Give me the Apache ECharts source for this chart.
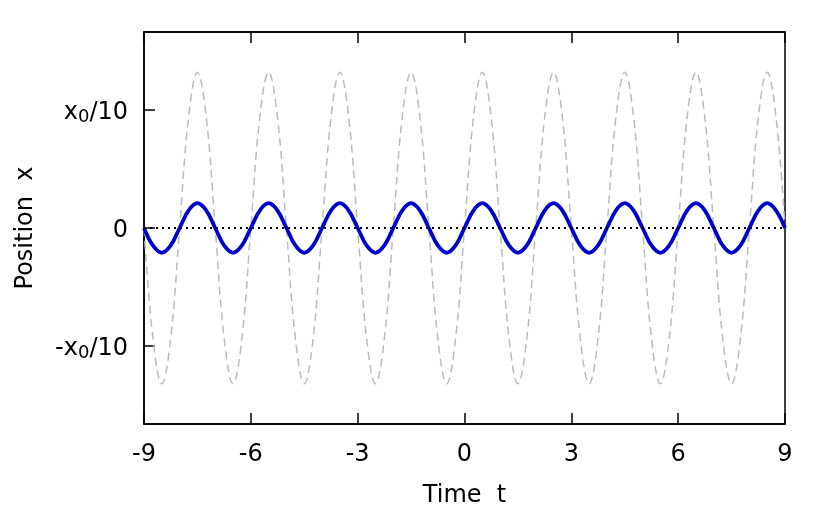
<!DOCTYPE html>
<html>
<head>
<meta charset="utf-8">
<script src="https://cdn.jsdelivr.net/npm/echarts@6/dist/echarts.min.js"></script>
<style>
  html, body { margin: 0; padding: 0; background: #fff; }
  #chart { width: 830px; height: 513px; }
</style>
</head>
<body>
<div id="chart"></div>
<script>
// time samples (every eighth of a period)
const timeValues = [
  -9, -8.75, -8.5, -8.25, -8, -7.75, -7.5, -7.25,
  -7, -6.75, -6.5, -6.25, -6, -5.75, -5.5, -5.25,
  -5, -4.75, -4.5, -4.25, -4, -3.75, -3.5, -3.25,
  -3, -2.75, -2.5, -2.25, -2, -1.75, -1.5, -1.25,
  -1, -0.75, -0.5, -0.25, 0, 0.25, 0.5, 0.75,
  1, 1.25, 1.5, 1.75, 2, 2.25, 2.5, 2.75,
  3, 3.25, 3.5, 3.75, 4, 4.25, 4.5, 4.75,
  5, 5.25, 5.5, 5.75, 6, 6.25, 6.5, 6.75,
  7, 7.25, 7.5, 7.75, 8, 8.25, 8.5, 8.75,
  9
];
// thick blue response curve
const responseValues = [
  0, -0.0148, -0.021, -0.0148, 0, 0.0148, 0.021, 0.0148,
  0, -0.0148, -0.021, -0.0148, 0, 0.0148, 0.021, 0.0148,
  0, -0.0148, -0.021, -0.0148, 0, 0.0148, 0.021, 0.0148,
  0, -0.0148, -0.021, -0.0148, 0, 0.0148, 0.021, 0.0148,
  0, -0.0148, -0.021, -0.0148, 0, 0.0148, 0.021, 0.0148,
  0, -0.0148, -0.021, -0.0148, 0, 0.0148, 0.021, 0.0148,
  0, -0.0148, -0.021, -0.0148, 0, 0.0148, 0.021, 0.0148,
  0, -0.0148, -0.021, -0.0148, 0, 0.0148, 0.021, 0.0148,
  0, -0.0148, -0.021, -0.0148, 0, 0.0148, 0.021, 0.0148,
  0
];
// grey dashed curve
const dashedValues = [
  0, -0.0933, -0.132, -0.0933, 0, 0.0933, 0.132, 0.0933,
  0, -0.0933, -0.132, -0.0933, 0, 0.0933, 0.132, 0.0933,
  0, -0.0933, -0.132, -0.0933, 0, 0.0933, 0.132, 0.0933,
  0, -0.0933, -0.132, -0.0933, 0, 0.0933, 0.132, 0.0933,
  0, -0.0933, -0.132, -0.0933, 0, 0.0933, 0.132, 0.0933,
  0, -0.0933, -0.132, -0.0933, 0, 0.0933, 0.132, 0.0933,
  0, -0.0933, -0.132, -0.0933, 0, 0.0933, 0.132, 0.0933,
  0, -0.0933, -0.132, -0.0933, 0, 0.0933, 0.132, 0.0933,
  0, -0.0933, -0.132, -0.0933, 0, 0.0933, 0.132, 0.0933,
  0
];
const yTicks = [-0.1, 0, 0.1];
const yTickLabels = ['{a|-x}{s|0}{a|/10}', '{a|0}', '{a|x}{s|0}{a|/10}'];

const chart = echarts.init(document.getElementById('chart'));
const font = 'DejaVu Sans';

const pairs = vals => timeValues.map((t, i) => [t, vals[i]]);

chart.setOption({
  animation: false,
  backgroundColor: '#fff',
  grid: {
    left: 144, right: 45, top: 32, bottom: 89,
    show: true, borderColor: '#000', borderWidth: 1.5
  },
  xAxis: [
    {
      type: 'value', min: -9, max: 9, interval: 3,
      name: 'Time  t', nameLocation: 'middle', nameGap: 60,
      nameTextStyle: { fontFamily: font, fontSize: 24, color: '#000' },
      axisLine: { show: true, onZero: false, lineStyle: { color: '#000', width: 1.5 } },
      axisTick: { inside: true, length: 11, lineStyle: { color: '#000', width: 1.5 } },
      axisLabel: { fontFamily: font, fontSize: 24, color: '#000', margin: 19 },
      splitLine: { show: false }
    },
    {
      type: 'value', min: -9, max: 9, interval: 3, position: 'top',
      axisLine: { show: true, onZero: false, lineStyle: { color: '#000', width: 1.5 } },
      axisTick: { inside: true, length: 11, lineStyle: { color: '#000', width: 1.5 } },
      axisLabel: { show: false },
      splitLine: { show: false }
    }
  ],
  yAxis: {
    type: 'value', min: -0.166, max: 0.166,
    name: 'Position  x', nameLocation: 'middle', nameGap: 106, nameRotate: 90,
    nameTextStyle: { fontFamily: font, fontSize: 24, color: '#000' },
    axisLine: { show: true, onZero: false, lineStyle: { color: '#000', width: 1.5 } },
    axisTick: { inside: true, length: 11, customValues: yTicks, lineStyle: { color: '#000', width: 1.5 } },
    axisLabel: {
      customValues: yTicks,
      margin: 16,
      padding: [5, 0, 0, 0],
      fontFamily: font, fontSize: 24, color: '#000',
      formatter: v => yTickLabels[yTicks.indexOf(v)],
      rich: {
        a: { fontFamily: font, fontSize: 24, color: '#000', lineHeight: 28 },
        s: { fontFamily: font, fontSize: 18, color: '#000', lineHeight: 28, verticalAlign: 'bottom', padding: [14, 0, 0, 0] }
      }
    },
    splitLine: { show: false }
  },
  series: [
    {
      type: 'line',
      data: pairs(dashedValues),
      smooth: 0.4,
      showSymbol: false,
      lineStyle: { color: '#bbbbbb', width: 1.5, type: [8, 5] },
      markLine: {
        silent: true,
        symbol: 'none',
        label: { show: false },
        lineStyle: { color: '#000', width: 1.8, type: [2, 4] },
        data: [{ yAxis: 0 }]
      },
      z: 2
    },
    {
      type: 'line',
      data: pairs(responseValues),
      smooth: 0.4,
      showSymbol: false,
      lineStyle: { color: '#0000cc', width: 3.8 },
      z: 3
    }
  ]
});
</script>
</body>
</html>
